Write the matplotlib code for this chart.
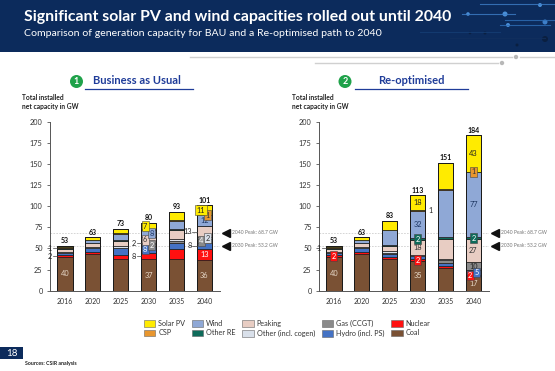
import matplotlib
matplotlib.use("Agg")
import matplotlib.pyplot as plt
from matplotlib.patches import Rectangle, Ellipse, Patch
from matplotlib.lines import Line2D
import matplotlib.transforms as mtransforms
import numpy as np

plt.rcParams['font.family'] = ['Lato', 'DejaVu Sans']

# ---------------- data ----------------
years = ['2016', '2020', '2025', '2030', '2035', '2040']
categories = ['Coal', 'Nuclear', 'Hydro (incl. PS)', 'Gas (CCGT)', 'Other (incl. cogen)',
              'Peaking', 'Other RE', 'Wind', 'CSP', 'Solar PV']

coal_bau    = [40, 44, 38, 37, 37, 36]
nuclear_bau = [2, 2, 4, 8, 12, 13]
hydro_bau   = [3, 4, 8, 8, 7, 8]
gas_bau     = [0, 1, 1, 2, 3, 4]
other_bau   = [1, 1, 2, 2, 2, 2]
peaking_bau = [3.5, 4, 6, 6, 11, 13]
otherre_bau = [0.5, 0.5, 1, 1, 1, 1]
wind_bau    = [1, 3, 7, 8, 10, 12]
csp_bau     = [0.5, 0.5, 1, 1, 1, 1]
solar_bau   = [1.5, 3, 5, 7, 9, 11]

coal_re     = [40, 44, 38, 35, 27, 17]
nuclear_re  = [2, 2, 2, 2, 2, 2]
hydro_re    = [3, 4, 4, 4, 4, 5]
gas_re      = [0, 1, 1, 0.5, 3, 10]
other_re    = [1, 1, 1.5, 0.5, 1, 0]
peaking_re  = [3.5, 4, 6, 18, 24, 27]
otherre_re  = [0.5, 0.5, 1, 2, 2, 2]
wind_re     = [1, 3, 18, 32, 56, 77]
csp_re      = [0.5, 0.5, 0.5, 1, 1, 1]
solar_re    = [1.5, 3, 11, 18, 31, 43]

peak_values = [68.7, 53.2]
peak_texts = ['2040 Peak: 68.7 GW', '2030 Peak: 53.2 GW']

# label specs: (year index, category, mode)
labels_bau = [
    (0, 'Coal', 'in'), (0, 'Nuclear', 'left'), (0, 'Wind', 'left'),
    (3, 'Coal', 'in'), (3, 'Nuclear', 'left'), (3, 'Hydro (incl. PS)', 'boxL'),
    (3, 'Gas (CCGT)', 'boxR'), (3, 'Other (incl. cogen)', 'left'), (3, 'Peaking', 'boxL'),
    (3, 'Wind', 'boxR'), (3, 'Solar PV', 'boxL'),
    (5, 'Coal', 'in'), (5, 'Nuclear', 'in'), (5, 'Hydro (incl. PS)', 'left'),
    (5, 'Gas (CCGT)', 'boxL'), (5, 'Other (incl. cogen)', 'boxR'), (5, 'Peaking', 'left'),
    (5, 'Wind', 'in'), (5, 'CSP', 'boxR'), (5, 'Solar PV', 'boxL'),
]
labels_re = [
    (0, 'Coal', 'in'), (0, 'Nuclear', 'box'), (0, 'Wind', 'left'),
    (3, 'Coal', 'in'), (3, 'Nuclear', 'box'), (3, 'Peaking', 'in'), (3, 'Other RE', 'box'),
    (3, 'Wind', 'in'), (3, 'CSP', 'right'), (3, 'Solar PV', 'in'),
    (5, 'Coal', 'in'), (5, 'Nuclear', 'boxL'), (5, 'Hydro (incl. PS)', 'boxR'),
    (5, 'Gas (CCGT)', 'in'), (5, 'Peaking', 'in'), (5, 'Other RE', 'box'),
    (5, 'Wind', 'in'), (5, 'CSP', 'box'), (5, 'Solar PV', 'in'),
]

colors = {
    'Coal': '#7A5134', 'Nuclear': '#FF1010', 'Hydro (incl. PS)': '#4472C4',
    'Gas (CCGT)': '#8A8A8A', 'Other (incl. cogen)': '#D9E0EA', 'Peaking': '#E8CDC3',
    'Other RE': '#0E6B5A', 'Wind': '#8FA8D6', 'CSP': '#E8962E', 'Solar PV': '#FFEB00',
}
text_colors = {
    'Coal': '#E6D8C8', 'Nuclear': 'white', 'Hydro (incl. PS)': 'white',
    'Gas (CCGT)': '#222222', 'Other (incl. cogen)': '#333333', 'Peaking': '#333333',
    'Other RE': 'white', 'Wind': '#1F3864', 'CSP': '#333333', 'Solar PV': '#222222',
}
box_text_colors = dict(text_colors)
box_text_colors['Gas (CCGT)'] = 'white'

W, H = 555, 371
fig = plt.figure(figsize=(W / 100, H / 100), dpi=100)


def fx(x):
    return x / W


def fy(y):
    return 1 - y / H


def dot(x, y, r, c):
    fig.patches.append(Ellipse((fx(x), fy(y)), 2 * r / W, 2 * r / H, transform=fig.transFigure,
                               facecolor=c, edgecolor='none'))


# ---------------- banner ----------------
fig.patches.append(Rectangle((0, fy(52)), 1, 52 / H, transform=fig.transFigure,
                             facecolor='#0C2B5C', edgecolor='none', zorder=0))
deco_lines = [((480, 555), 4, '#3E7FC9'), ((462, 515), 14, '#3E7FC9'), ((505, 555), 20, '#2F6FB8'),
              ((500, 550), 25, '#2F6FB8'), ((420, 500), 32, '#163E74'), ((450, 545), 38, '#12305E')]
for (x0, x1), yy, c in deco_lines:
    fig.add_artist(Line2D([fx(x0), fx(x1)], [fy(yy), fy(yy)], transform=fig.transFigure,
                          color=c, lw=0.8, alpha=0.8))
deco_dots = [(505, 14, 2.5, '#4A8FD8'), (468, 14, 1.8, '#4A8FD8'), (508, 25, 2, '#4A8FD8'),
             (545, 22, 2.5, '#3E7FC9'), (540, 5, 2, '#4A8FD8'), (545, 39, 3, '#0A1F40'),
             (485, 33, 1.5, '#0A1F40'), (470, 33, 1.3, '#0A1F40'), (517, 45, 1.5, '#0A1F40')]
for x, yy, r, c in deco_dots:
    dot(x, yy, r, c)

title = fig.text(fx(24), fy(17), 'Significant solar PV and wind capacities rolled out until 2040',
                 color='white', fontsize=12.5, fontweight='bold', va='center', ha='left')
subtitle = fig.text(fx(24), fy(34), 'Comparison of generation capacity for BAU and a Re-optimised path to 2040',
                    color='white', fontsize=7.3, va='center', ha='left')

# grey lines under banner
fig.add_artist(Line2D([fx(190), fx(512)], [fy(57), fy(57)], transform=fig.transFigure, color='#D0D0D0', lw=1))
fig.add_artist(Line2D([fx(520), fx(555)], [fy(57), fy(57)], transform=fig.transFigure, color='#D0D0D0', lw=1))
fig.add_artist(Line2D([fx(315), fx(498)], [fy(63), fy(63)], transform=fig.transFigure, color='#D0D0D0', lw=1))
dot(516, 57, 2.2, '#B8B8B8')
dot(502, 63, 2.2, '#B8B8B8')

# ---------------- section headers ----------------
def header(cx, num, text, tx, ux0, ux1):
    dot(cx, 81.5, 6.5, '#1FA24A')
    fig.text(fx(cx), fy(81.5), num, color='white', fontsize=6.5, fontweight='bold',
             ha='center', va='center')
    fig.text(fx(tx), fy(81), text, color='#1F3C99', fontsize=8, fontweight='bold',
             ha='center', va='center')
    fig.add_artist(Line2D([fx(ux0), fx(ux1)], [fy(88.5), fy(88.5)], transform=fig.transFigure,
                          color='#1F3C99', lw=0.9))


header(76.5, '1', 'Business as Usual', 137, 85, 193)
header(345, '2', 'Re-optimised', 411, 355, 468)

for x in (22.5, 292.5):
    fig.text(fx(x), fy(98), 'Total installed', fontsize=4.8, fontweight='bold', color='#222222',
             ha='left', va='center')
    fig.text(fx(x), fy(107), 'net capacity in GW', fontsize=4.8, fontweight='bold', color='#222222',
             ha='left', va='center')

# ---------------- charts ----------------
y0_px, y200_px = 290.7, 121.7
ax_bottom = fy(y0_px)
ax_height = (y0_px - y200_px) / H
axL = fig.add_axes([fx(49.6), ax_bottom, (219.5 - 49.6) / W, ax_height])
axR = fig.add_axes([fx(318.6), ax_bottom, (488.5 - 318.6) / W, ax_height])

series_bau = [coal_bau, nuclear_bau, hydro_bau, gas_bau, other_bau, peaking_bau,
              otherre_bau, wind_bau, csp_bau, solar_bau]
series_re = [coal_re, nuclear_re, hydro_re, gas_re, other_re, peaking_re,
             otherre_re, wind_re, csp_re, solar_re]

bar_w = 0.56


def draw_chart(ax, series, label_specs):
    x = np.arange(len(years))
    bottoms = np.zeros(len(years))
    bottom_map, value_map = {}, {}
    for cat, vals in zip(categories, series):
        vals = np.array(vals, dtype=float)
        ax.bar(x, vals, bar_w, bottom=bottoms, color=colors[cat], edgecolor='#1A1A1A',
               linewidth=0.5, zorder=3)
        bottom_map[cat] = bottoms.copy()
        value_map[cat] = vals
        bottoms = bottoms + vals
    # outer outline
    ax.bar(x, bottoms, bar_w, facecolor='none', edgecolor='#1A1A1A', linewidth=0.7, zorder=4)
    for xi, tot in zip(x, bottoms):
        ax.text(xi, tot + 2, f'{int(round(tot))}', ha='center', va='bottom', fontsize=5,
                fontweight='bold', color='#111111', zorder=6)
    for yi, cat, mode in label_specs:
        v = value_map[cat][yi]
        yc = bottom_map[cat][yi] + v / 2
        txt = f'{int(round(v))}'
        if mode == 'in':
            ax.text(yi, yc, txt, ha='center', va='center', fontsize=5.3,
                    color=text_colors[cat], zorder=6)
        elif mode.startswith('box'):
            dx = {'box': 0, 'boxL': -0.12, 'boxR': 0.12}[mode]
            ax.text(yi + dx, yc, txt, ha='center', va='center', fontsize=5.3,
                    color=box_text_colors[cat], zorder=7,
                    bbox=dict(boxstyle='square,pad=0.18', facecolor=colors[cat],
                              edgecolor='#444444', linewidth=0.4))
        elif mode == 'left':
            ax.text(yi - bar_w / 2 - 0.17, yc, txt, ha='right', va='center', fontsize=5.3,
                    color='#222222', zorder=6)
            ax.plot([yi - bar_w / 2 - 0.15, yi - bar_w / 2], [yc, yc], color='#444444',
                    lw=0.5, zorder=6, clip_on=False)
        elif mode == 'right':
            ax.text(yi + bar_w / 2 + 0.1, yc, txt, ha='left', va='center', fontsize=5.3,
                    color='#222222', zorder=6)

    ax.set_xlim(-0.54, 5.54)
    ax.set_ylim(0, 200)
    ax.set_yticks(np.arange(0, 201, 25))
    ax.set_xticks(x)
    ax.set_xticklabels(years)
    ax.tick_params(axis='y', labelsize=5.3, length=2, width=0.5, colors='#333333', pad=3)
    ax.tick_params(axis='x', labelsize=5, length=0, colors='#333333', pad=5)
    for s in ('top', 'right'):
        ax.spines[s].set_visible(False)
    for s in ('left', 'bottom'):
        ax.spines[s].set_color('#555555')
        ax.spines[s].set_linewidth(0.7)
    ax.set_facecolor('none')

    trans = mtransforms.blended_transform_factory(ax.transAxes, ax.transData)
    for pv, pt in zip(peak_values, peak_texts):
        ax.axhline(pv, color='#CFCFCF', lw=0.6, ls=(0, (2, 1.5)), zorder=1)
        ax.plot([1.04], [pv], marker='<', color='#111111', markersize=5.5, transform=trans,
                clip_on=False)
        ax.text(1.075, pv, pt, transform=trans, fontsize=3.6, color='#777777',
                ha='left', va='center', clip_on=False)


draw_chart(axL, series_bau, labels_bau)
draw_chart(axR, series_re, labels_re)

# ---------------- legend ----------------
legend_order = ['Solar PV', 'CSP', 'Wind', 'Other RE', 'Peaking', 'Other (incl. cogen)',
                'Gas (CCGT)', 'Hydro (incl. PS)', 'Nuclear', 'Coal']
handles = [Patch(facecolor=colors[c], edgecolor='#666666', linewidth=0.4, label=c) for c in legend_order]
fig.legend(handles=handles, ncol=5, loc='upper left', bbox_to_anchor=(fx(141), fy(317)),
           frameon=False, fontsize=5.2, handlelength=1.6, handleheight=1.1, handletextpad=0.4,
           columnspacing=0.9, labelspacing=0.35, borderaxespad=0, labelcolor='#333333')

# ---------------- footer ----------------
fig.patches.append(Rectangle((0, fy(359)), 23 / W, 12 / H, transform=fig.transFigure,
                             facecolor='#0C2B5C', edgecolor='none'))
fig.text(fx(11.5), fy(353), '18', color='white', fontsize=7, ha='center', va='center')
fig.text(fx(25), fy(363.5), 'Sources: CSIR analysis', color='#222222', fontsize=3.8,
         fontweight='bold', ha='left', va='center')

# fit title widths
fig.canvas.draw()
r = fig.canvas.get_renderer()
for t, target in ((title, 428), (subtitle, 355)):
    w = t.get_window_extent(r).width
    t.set_fontsize(t.get_fontsize() * target / w)

fig.savefig('out.png', dpi=100)
